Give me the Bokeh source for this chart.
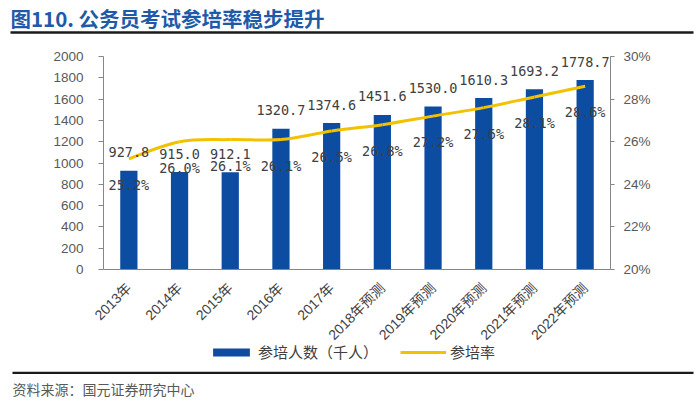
import math
from bokeh.plotting import figure
from bokeh.models import (Range1d, LinearAxis, FixedTicker, ColumnDataSource, LabelSet, Label,
                          Legend, LegendItem, BoxAnnotation, PrintfTickFormatter)
from bokeh.core.properties import value
from bokeh.embed import file_html
from bokeh.resources import INLINE

# ---------------- data ----------------
categories = ["2013年", "2014年", "2015年", "2016年", "2017年",
              "2018年预测", "2019年预测", "2020年预测", "2021年预测", "2022年预测"]
trainees = [927.8, 915.0, 912.1, 1320.7, 1374.6, 1451.6, 1530.0, 1610.3, 1693.2, 1778.7]
rate = [25.2, 26.0, 26.1, 26.1, 26.5, 26.8, 27.2, 27.6, 28.1, 28.6]
left_ticks = [0, 200, 400, 600, 800, 1000, 1200, 1400, 1600, 1800, 2000]
right_ticks = [20, 22, 24, 26, 28, 30]
title_text = "图110. 公务员考试参培率稳步提升"
source_text = "资料来源：国元证券研究中心"
series_names = ["参培人数（千人）", "参培率"]

# ---------------- layout constants (pixels) ----------------
W, H = 700, 404
PL, PR, PT, PB = 103, 610, 56, 269        # plot area edges
LMIN, LMAX = 0, 2000
RMIN, RMAX = 20, 30

BLUE = "#0c4da2"
YELLOW = "#f2c200"
TXT = "#404040"
AX = "#595959"
AXL = "#868686"
CJK = "Noto Sans CJK SC"

n = len(categories)
xs = list(range(n))
ux = (PR - PL) / n
x_start = -0.5 - PL / ux
x_end = -0.5 + (W - PL) / ux
uy = (PB - PT) / (LMAX - LMIN)
y_start = LMIN - (H - PB) / uy
y_end = LMIN + PB / uy
ur = (PB - PT) / (RMAX - RMIN)
r_start = RMIN - (H - PB) / ur
r_end = RMIN + PB / ur

p = figure(width=W, height=H, output_backend="svg", toolbar_location=None,
           x_range=Range1d(x_start, x_end), y_range=Range1d(y_start, y_end),
           min_border=0, min_border_left=0, min_border_right=0,
           min_border_top=0, min_border_bottom=0)
p.extra_y_ranges = {"pct": Range1d(r_start, r_end)}
p.outline_line_color = None
p.xgrid.visible = False
p.ygrid.visible = False

# bars
bar_src = ColumnDataSource(dict(x=xs, top=trainees, text=[f"{v:.1f}" for v in trainees]))
bars = p.vbar(x="x", top="top", bottom=LMIN, width=0.34, source=bar_src,
              fill_color=BLUE, line_color=None)

# smoothed line: Bezier segments through the data points
seg = dict(x0=[], y0=[], x1=[], y1=[], cx0=[], cy0=[], cx1=[], cy1=[])
for i in range(n - 1):
    a = max(i - 1, 0)
    d = min(i + 2, n - 1)
    seg["x0"].append(xs[i]); seg["y0"].append(rate[i])
    seg["x1"].append(xs[i + 1]); seg["y1"].append(rate[i + 1])
    seg["cx0"].append(xs[i] + (xs[i + 1] - xs[a]) / 6)
    seg["cy0"].append(rate[i] + (rate[i + 1] - rate[a]) / 6)
    seg["cx1"].append(xs[i + 1] - (xs[d] - xs[i]) / 6)
    seg["cy1"].append(rate[i + 1] - (rate[d] - rate[i]) / 6)
curve = p.bezier(x0="x0", y0="y0", x1="x1", y1="y1", cx0="cx0", cy0="cy0", cx1="cx1", cy1="cy1",
                 source=ColumnDataSource(seg), line_color=YELLOW, line_width=3, y_range_name="pct")

# data labels
p.add_layout(LabelSet(x="x", y="top", text="text", source=bar_src, y_offset=18.5,
                      text_align="center", text_baseline="middle", text_color=TXT,
                      text_font=value("DejaVu Sans Mono"), text_font_size="13.5px"))
pct_src = ColumnDataSource(dict(x=xs, y=rate, text=[f"{r:.1f}%" for r in rate]))
p.add_layout(LabelSet(x="x", y="y", text="text", source=pct_src, y_range_name="pct", y_offset=-26,
                      text_align="center", text_baseline="middle", text_color=TXT,
                      text_font=value("DejaVu Sans Mono"), text_font_size="13.5px"))

# left axis
ya = p.yaxis[0]
ya.fixed_location = -0.5
ya.bounds = (LMIN, LMAX)
ya.ticker = FixedTicker(ticks=left_ticks)
ya.major_tick_out = 5
ya.major_tick_in = 0
ya.minor_tick_line_color = None
ya.axis_line_color = AXL
ya.major_tick_line_color = AXL
ya.major_label_standoff = 15
ya.major_label_text_color = AX
ya.major_label_text_font = "Liberation Sans"
ya.major_label_text_font_size = "13.5px"

# right axis
ra = LinearAxis(y_range_name="pct", ticker=FixedTicker(ticks=right_ticks),
                formatter=PrintfTickFormatter(format="%d%%"))
ra.fixed_location = n - 0.5
ra.bounds = (RMIN, RMAX)
ra.major_tick_out = 4
ra.major_tick_in = 0
ra.minor_tick_line_color = None
ra.axis_line_color = AXL
ra.major_tick_line_color = AXL
ra.major_label_standoff = 9
ra.major_label_text_color = AX
ra.major_label_text_font = "Liberation Sans"
ra.major_label_text_font_size = "13.5px"
p.add_layout(ra, "right")

# category axis
xa = p.xaxis[0]
xa.fixed_location = LMIN
xa.bounds = (-0.5, n - 0.5)
xa.ticker = FixedTicker(ticks=xs)
xa.major_label_overrides = {i: c for i, c in zip(xs, categories)}
xa.major_label_orientation = math.pi / 4
xa.major_tick_out = 0
xa.major_tick_in = 0
xa.minor_tick_line_color = None
xa.axis_line_color = AXL
xa.major_label_standoff = 16
xa.major_label_text_color = TXT
xa.major_label_text_font = "Liberation Sans, Noto Sans CJK SC"
xa.major_label_text_font_size = "14px"

# legend
legend = Legend(items=[LegendItem(label=series_names[0], renderers=[bars]),
                       LegendItem(label=series_names[1], renderers=[curve])],
                orientation="horizontal", location=(208, H - 362), margin=0, padding=0,
                glyph_width=46, glyph_height=10, label_height=18, label_width=119,
                label_standoff=4, spacing=22,
                label_text_font=CJK, label_text_font_size="15px", label_text_color=TXT,
                border_line_color=None, background_fill_alpha=0)
p.add_layout(legend, "center")

# title, rules, source
p.add_layout(Label(x=10, y=H - 17, x_units="screen", y_units="screen", text=title_text,
                   text_font=CJK, text_font_style="bold", text_font_size="20.5px",
                   text_color="#1f5aa8", text_baseline="middle", text_align="left"))
p.add_layout(BoxAnnotation(left=10, right=693, bottom=H - 33.2, top=H - 30.8,
                           left_units="screen", right_units="screen",
                           bottom_units="screen", top_units="screen",
                           fill_color="#1a1a1a", fill_alpha=1, line_color=None))
p.add_layout(BoxAnnotation(left=12, right=693, bottom=H - 373.4, top=H - 371.2,
                           left_units="screen", right_units="screen",
                           bottom_units="screen", top_units="screen",
                           fill_color="#1a1a1a", fill_alpha=1, line_color=None))
p.add_layout(Label(x=12, y=H - 388, x_units="screen", y_units="screen", text=source_text,
                   text_font=CJK, text_font_size="14px", text_color=AX,
                   text_baseline="middle", text_align="left"))

open("out.html", "w").write(file_html(p, INLINE))
